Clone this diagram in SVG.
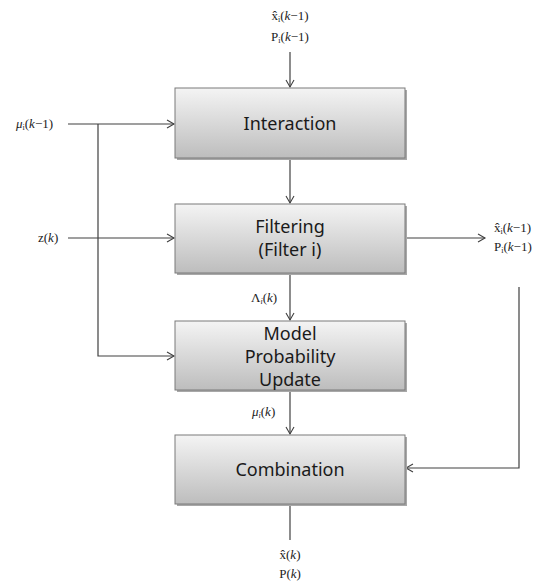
<svg xmlns="http://www.w3.org/2000/svg" width="546" height="581" viewBox="0 0 546 581">
<style>
.box{stroke:#7a7a7a;stroke-width:1;fill:url(#g)}
.sh{fill:#a8a8a8}
.lbl{font-family:"Noto Sans","Open Sans",sans-serif;font-size:18px;fill:#1a1a1a;text-anchor:middle}
.m{font-family:"Liberation Serif","DejaVu Serif",serif;font-size:13px;fill:#222}
.c{stroke:#404040;stroke-width:1.2;fill:none}
</style>
<defs>
<linearGradient id="g" x1="0" y1="0" x2="0" y2="1">
<stop offset="0" stop-color="#f4f4f4"/>
<stop offset="1" stop-color="#bdbdbd"/>
</linearGradient>
<marker id="a" markerWidth="10" markerHeight="10" refX="8" refY="5" orient="auto" markerUnits="userSpaceOnUse">
<path d="M1,1 L8,5 L1,9" fill="none" stroke="#404040" stroke-width="1.1"/>
</marker>
</defs>
<g id="connectors">
<line class="c" x1="290" y1="52" x2="290" y2="87" marker-end="url(#a)"/>
<line class="c" x1="290" y1="159" x2="290" y2="203" marker-end="url(#a)"/>
<line class="c" x1="290" y1="274" x2="290" y2="320" marker-end="url(#a)"/>
<line class="c" x1="290" y1="391" x2="290" y2="434" marker-end="url(#a)"/>
<line class="c" x1="290" y1="505" x2="290" y2="540"/>
<line class="c" x1="68" y1="124" x2="174" y2="124" marker-end="url(#a)"/>
<polyline class="c" points="98,124 98,356 174,356" marker-end="url(#a)"/>
<line class="c" x1="68" y1="238" x2="174" y2="238" marker-end="url(#a)"/>
<line class="c" x1="406" y1="238" x2="485" y2="238" marker-end="url(#a)"/>
<polyline class="c" points="519,287 519,468 406,468" marker-end="url(#a)"/>
</g>
<g id="interaction">
<rect class="sh" x="177" y="90" width="230" height="70"/>
<rect class="box" x="175" y="88" width="230" height="70"/>
<text class="lbl" x="290" y="130">Interaction</text>
</g>
<g id="filtering">
<rect class="sh" x="177" y="206" width="230" height="69"/>
<rect class="box" x="175" y="204" width="230" height="69"/>
<text class="lbl" x="290" y="233">Filtering</text>
<text class="lbl" x="290" y="256">(Filter i)</text>
</g>
<g id="model">
<rect class="sh" x="177" y="323" width="230" height="69"/>
<rect class="box" x="175" y="321" width="230" height="69"/>
<text class="lbl" x="290" y="340">Model</text>
<text class="lbl" x="290" y="363">Probability</text>
<text class="lbl" x="290" y="386">Update</text>
</g>
<g id="combination">
<rect class="sh" x="177" y="437" width="230" height="69"/>
<rect class="box" x="175" y="435" width="230" height="69"/>
<text class="lbl" x="290" y="476">Combination</text>
</g>
<g id="labels">
<text class="m" x="290" y="20" text-anchor="middle">x̂<tspan font-size="8" dy="2">i</tspan><tspan dy="-2">(<tspan font-style="italic">k</tspan>−1)</tspan></text>
<text class="m" x="290" y="41" text-anchor="middle">P<tspan font-size="8" dy="2">i</tspan><tspan dy="-2">(<tspan font-style="italic">k</tspan>−1)</tspan></text>
<text class="m" x="16" y="128"><tspan font-style="italic">μ</tspan><tspan font-size="8" dy="2">i</tspan><tspan dy="-2">(<tspan font-style="italic">k</tspan>−1)</tspan></text>
<text class="m" x="38" y="242">z(<tspan font-style="italic">k</tspan>)</text>
<text class="m" x="494" y="232">x̂<tspan font-size="8" dy="2">i</tspan><tspan dy="-2">(<tspan font-style="italic">k</tspan>−1)</tspan></text>
<text class="m" x="494" y="251">P<tspan font-size="8" dy="2">i</tspan><tspan dy="-2">(<tspan font-style="italic">k</tspan>−1)</tspan></text>
<text class="m" x="251" y="302">Λ<tspan font-size="8" dy="2" font-style="italic">i</tspan><tspan dy="-2">(<tspan font-style="italic">k</tspan>)</tspan></text>
<text class="m" x="252" y="416"><tspan font-style="italic">μ</tspan><tspan font-size="8" dy="2" font-style="italic">i</tspan><tspan dy="-2">(<tspan font-style="italic">k</tspan>)</tspan></text>
<text class="m" x="290" y="559" text-anchor="middle">x̂(<tspan font-style="italic">k</tspan>)</text>
<text class="m" x="290" y="578" text-anchor="middle">P(<tspan font-style="italic">k</tspan>)</text>
</g>
</svg>
